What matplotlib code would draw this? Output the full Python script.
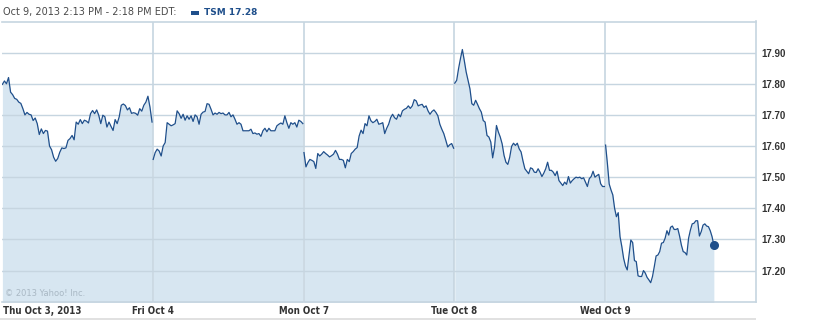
import numpy as np
import matplotlib
matplotlib.use("Agg")
import matplotlib.pyplot as plt
from matplotlib import font_manager
from matplotlib.font_manager import FontProperties

# ---------------- data ----------------
day_labels = ["Thu Oct 3, 2013", "Fri Oct 4", "Mon Oct 7", "Tue Oct 8", "Wed Oct 9"]
y_ticks = [17.20, 17.30, 17.40, 17.50, 17.60, 17.70, 17.80, 17.90]
title_text = "Oct 9, 2013 2:13 PM - 2:18 PM EDT:"
legend_text = "TSM 17.28"
credit_text = "\u00a9 2013 Yahoo! Inc."

# minutes after 9:30 of the last plotted quote for each session
session_end_min = [388, 388, 388, 388, 281]

day1 = [17.798, 17.809, 17.800, 17.820, 17.773, 17.765, 17.753, 17.750, 17.741, 17.737,
        17.720, 17.700, 17.708, 17.702, 17.700, 17.682, 17.690, 17.672, 17.637, 17.655,
        17.640, 17.650, 17.648, 17.600, 17.588, 17.564, 17.551, 17.560, 17.580, 17.594,
        17.592, 17.594, 17.618, 17.624, 17.634, 17.620, 17.677, 17.670, 17.685, 17.672,
        17.683, 17.680, 17.674, 17.704, 17.714, 17.704, 17.716, 17.699, 17.672, 17.699,
        17.694, 17.661, 17.677, 17.663, 17.650, 17.685, 17.672, 17.694, 17.731, 17.735,
        17.730, 17.716, 17.723, 17.705, 17.707, 17.705, 17.699, 17.720, 17.712, 17.731,
        17.741, 17.760, 17.725, 17.677]
day2 = [17.557, 17.579, 17.590, 17.584, 17.568, 17.600, 17.611, 17.675, 17.670, 17.665,
        17.668, 17.672, 17.713, 17.704, 17.689, 17.702, 17.683, 17.697, 17.686, 17.697,
        17.679, 17.700, 17.694, 17.670, 17.702, 17.709, 17.711, 17.736, 17.734, 17.718,
        17.700, 17.706, 17.702, 17.708, 17.704, 17.706, 17.700, 17.700, 17.708, 17.694,
        17.700, 17.686, 17.670, 17.675, 17.670, 17.649, 17.649, 17.649, 17.649, 17.654,
        17.640, 17.642, 17.638, 17.640, 17.631, 17.649, 17.657, 17.646, 17.657, 17.649,
        17.649, 17.649, 17.665, 17.670, 17.674, 17.670, 17.697, 17.675, 17.657, 17.675,
        17.670, 17.675, 17.661, 17.683, 17.679, 17.672]
day3 = [17.579, 17.533, 17.547, 17.557, 17.554, 17.550, 17.528, 17.576, 17.568, 17.574,
        17.582, 17.576, 17.571, 17.565, 17.569, 17.574, 17.586, 17.574, 17.557, 17.557,
        17.554, 17.530, 17.557, 17.550, 17.576, 17.582, 17.590, 17.595, 17.632, 17.651,
        17.640, 17.672, 17.665, 17.697, 17.681, 17.675, 17.679, 17.686, 17.670, 17.672,
        17.675, 17.640, 17.657, 17.670, 17.691, 17.702, 17.691, 17.686, 17.702, 17.694,
        17.713, 17.718, 17.721, 17.729, 17.721, 17.729, 17.749, 17.745, 17.729, 17.732,
        17.734, 17.724, 17.729, 17.713, 17.702, 17.711, 17.716, 17.708, 17.697, 17.670,
        17.654, 17.640, 17.619, 17.597, 17.604, 17.608, 17.593]
day4 = [17.802, 17.811, 17.849, 17.881, 17.910, 17.875, 17.838, 17.811, 17.784, 17.736,
        17.731, 17.747, 17.734, 17.720, 17.709, 17.682, 17.677, 17.634, 17.629, 17.613,
        17.562, 17.597, 17.666, 17.645, 17.629, 17.607, 17.570, 17.548, 17.541, 17.564,
        17.599, 17.609, 17.602, 17.609, 17.591, 17.581, 17.552, 17.527, 17.519, 17.511,
        17.530, 17.527, 17.516, 17.515, 17.527, 17.516, 17.502, 17.513, 17.527, 17.548,
        17.522, 17.522, 17.516, 17.505, 17.519, 17.489, 17.481, 17.473, 17.484, 17.477,
        17.502, 17.481, 17.489, 17.495, 17.500, 17.498, 17.500, 17.495, 17.498, 17.484,
        17.470, 17.495, 17.502, 17.519, 17.500, 17.505, 17.509, 17.479, 17.470, 17.470]
day5 = [17.603, 17.544, 17.478, 17.459, 17.443, 17.400, 17.373, 17.386, 17.309, 17.277,
        17.239, 17.215, 17.202, 17.250, 17.298, 17.290, 17.232, 17.229, 17.183, 17.181,
        17.181, 17.200, 17.192, 17.178, 17.170, 17.161, 17.181, 17.213, 17.247, 17.250,
        17.261, 17.288, 17.290, 17.304, 17.328, 17.314, 17.339, 17.343, 17.332, 17.332,
        17.335, 17.311, 17.282, 17.261, 17.258, 17.250, 17.304, 17.330, 17.350, 17.352,
        17.360, 17.360, 17.311, 17.325, 17.346, 17.350, 17.343, 17.341, 17.328, 17.309,
        17.282]
sessions = [day1, day2, day3, day4, day5]

# ---------------- style ----------------
LINE = "#1f4f8b"
FILL = "#d7e6f1"
GRID = "#c6d5e0"
TXT = "#333333"

# find a condensed / narrow bold font for the day labels
narrow_fp = None
for f in font_manager.fontManager.ttflist:
    nm = (f.name + " " + f.fname).lower()
    if ("narrow" in nm or "condensed" in nm) and f.weight in ("bold", 700):
        narrow_fp = FontProperties(fname=f.fname)
        break
if narrow_fp is None:
    narrow_fp = FontProperties(family="DejaVu Sans", weight="bold")
    day_size = 6.1
else:
    day_size = 7.0
narrow_fp.set_size(day_size)

DAY_MIN = 390
fig = plt.figure(figsize=(8.15, 3.2), dpi=100)
W, H = 815, 320
left, right, top, bottom = 2, 756, 21.5, 301.7
ax = fig.add_axes([left / W, 1 - bottom / H, (right - left) / W, (bottom - top) / H])
ax.set_xlim(0, 5 * DAY_MIN)
ax.set_ylim(17.10, 18.00)

for i, vals in enumerate(sessions):
    x = i * DAY_MIN + np.linspace(1, session_end_min[i], len(vals))
    ax.fill_between(x, vals, 17.0, color=FILL, lw=0, zorder=1)
    ax.plot(x, vals, color=LINE, lw=0.9, zorder=3, solid_joinstyle="round")
    if i == len(sessions) - 1:
        ax.plot(x[-1], vals[-1], "o", color=LINE, ms=5.5, zorder=4)

for t in y_ticks:
    ax.axhline(t, color=GRID, lw=1.0, zorder=2)
for d in range(1, 5):
    ax.axvline(d * DAY_MIN, color=GRID, lw=1.2, zorder=2)

ax.spines["left"].set_visible(False)
for s in ["top", "right", "bottom"]:
    ax.spines[s].set_color(GRID)
    ax.spines[s].set_linewidth(1.2)

ax.set_xticks([])
ax.yaxis.tick_right()
ax.set_yticks(y_ticks)
ax.set_yticklabels([f"{t:.2f}" for t in y_ticks])
ax.tick_params(axis="y", length=0, pad=4, labelsize=7, labelcolor=TXT)
for lab in ax.get_yticklabels():
    lab.set_fontweight("bold")
    lab.set_family("Liberation Sans")

# day labels
for i, lab in enumerate(day_labels):
    if i == 0:
        fig.text(3 / W, 1 - 311 / H, lab, ha="left", va="center",
                 fontproperties=narrow_fp, color=TXT)
    else:
        xd = ax.transData.transform((i * DAY_MIN, 17.5))[0] / fig.dpi / fig.get_figwidth()
        fig.text(xd, 1 - 311 / H, lab, ha="center", va="center",
                 fontproperties=narrow_fp, color=TXT)

# bottom gray strip
fig.patches.append(matplotlib.patches.Rectangle((0, 0), right / W, 2.5 / H,
                   transform=fig.transFigure, color="#e1e1e1", lw=0))

# title and legend
fig.text(3 / W, 1 - 12.5 / H, title_text, ha="left", va="center", fontsize=7,
         family="DejaVu Sans", color="#4a4a4a")
fig.patches.append(matplotlib.patches.Rectangle((191 / W, 1 - 14.5 / H), 8 / W, 3 / H,
                   transform=fig.transFigure, color=LINE, lw=0))
fig.text(204 / W, 1 - 12.5 / H, legend_text, ha="left", va="center", fontsize=6.5,
         fontweight="bold", family="DejaVu Sans", color=LINE)

# credit
ax.text(5 / W, 1 - 293 / H, credit_text, transform=fig.transFigure, ha="left",
        va="center", fontsize=6, color="#a9b8c4", zorder=5)

fig.savefig("out.png", dpi=100)
